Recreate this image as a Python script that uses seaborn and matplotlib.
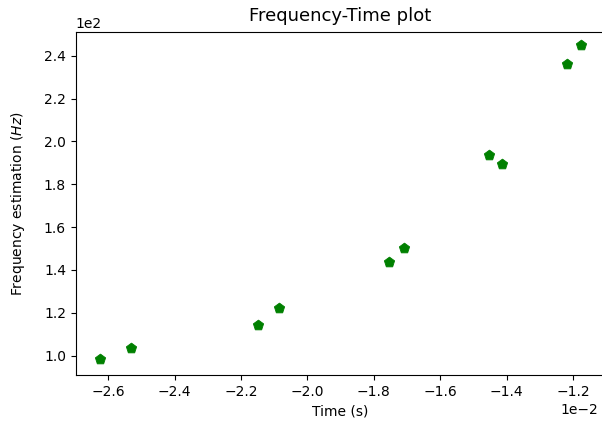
import matplotlib
matplotlib.use("Agg")
import matplotlib.pyplot as plt
import seaborn as sns
import pandas as pd

# time (s) and estimated frequency (Hz)
time_s = [-0.026253, -0.02530, -0.02149, -0.02085, -0.01754,
          -0.01709, -0.01453, -0.01414, -0.01218, -0.01177]
freq_hz = [98.46, 103.73, 114.19, 122.26, 143.72,
           150.26, 193.52, 189.60, 235.99, 244.85]

df = pd.DataFrame({"Time": time_s, "Freq": freq_hz})

fig = plt.figure(figsize=(6.02, 4.23), dpi=100)
# right edge of the axes runs just past the picture, as in the reference
ax = fig.add_axes([0.1257, 0.1135, 0.879, 0.810])
sns.scatterplot(data=df, x="Time", y="Freq", marker="p", color="green",
                edgecolor="green", s=60, ax=ax)
ax.set_ylim(91.0, 250.9)
ax.ticklabel_format(style="sci", axis="both", scilimits=(0, 0))
ax.xaxis.get_offset_text().set_x(0.987)
ax.set_title("Frequency-Time plot", fontsize=13, pad=8)
ax.set_xlabel("Time (s)")
ax.set_ylabel("Frequency estimation ($Hz$)", labelpad=12)
fig.savefig("out.png", dpi=100)
